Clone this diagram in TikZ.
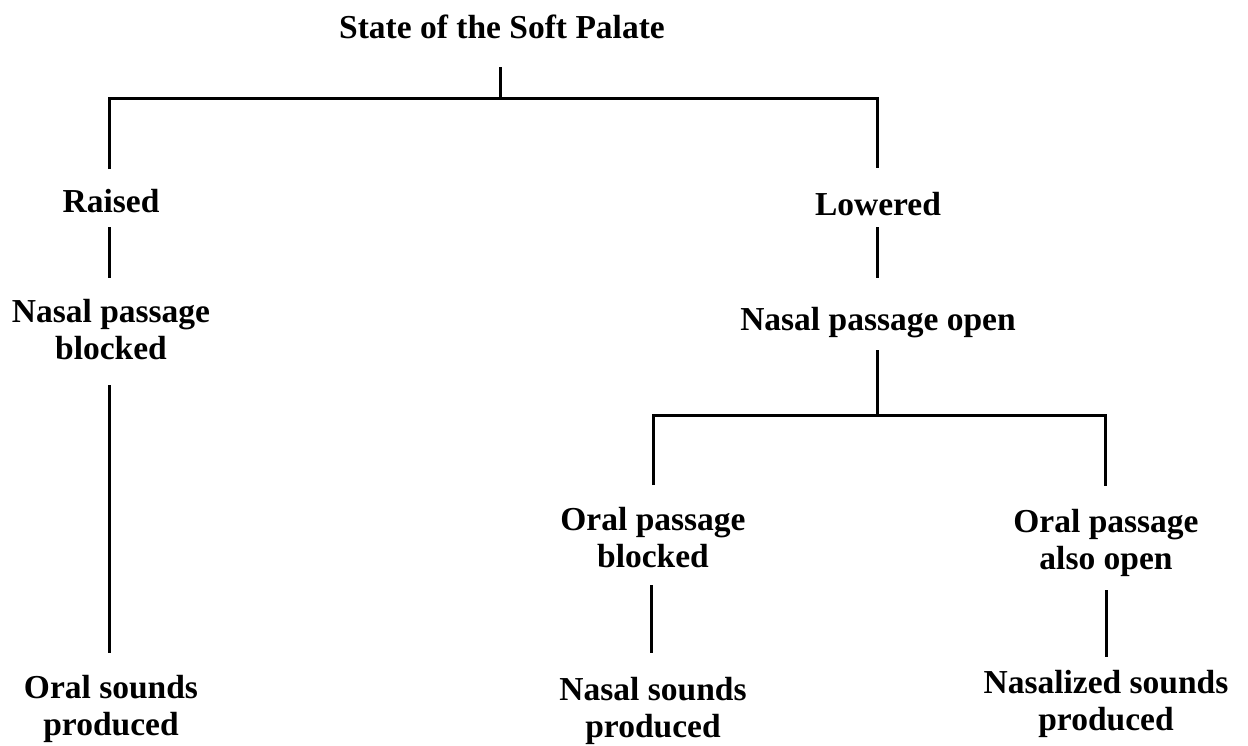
\documentclass[tikz,border=0pt]{standalone}
\usepackage{fontspec}
\setmainfont{Liberation Serif}
\begin{document}
\begin{tikzpicture}[x=1pt,y=-1pt,
  lbl/.style={font=\fontsize{33.5}{37}\selectfont\bfseries, align=center, anchor=base, inner sep=0pt},
  branch/.style={line width=3pt, line join=miter}]
\useasboundingbox (0,0) rectangle (1248,745);

% labels (positioned on the baseline of their last line)
\node[lbl] (root)      at (502,38)  {State of the Soft Palate};
\node[lbl] (raised)    at (111,212) {Raised};
\node[lbl] (nasblk)    at (111,359) {Nasal passage\\blocked};
\node[lbl] (oralsnd)   at (111,735) {Oral sounds\\produced};
\node[lbl] (lowered)   at (878,215) {Lowered};
\node[lbl] (nasopen)   at (878,330) {Nasal passage open};
\node[lbl] (oralblk)   at (653,567) {Oral passage\\blocked};
\node[lbl] (nassnd)    at (653,737) {Nasal sounds\\produced};
\node[lbl] (oralopen)  at (1106,569){Oral passage\\also open};
\node[lbl] (nasalized) at (1106,730){Nasalized sounds\\produced};

% branch points and line ends
\coordinate (rootA) at (500,67);
\coordinate (rootB) at (500,98);
\coordinate (barL)  at (109,98);
\coordinate (barR)  at (877,98);
\coordinate (dropL) at (109,169);
\coordinate (dropR) at (877,168);
\coordinate (raA)   at (109,227);
\coordinate (raB)   at (109,278);
\coordinate (nbA)   at (109,385);
\coordinate (nbB)   at (109,653);
\coordinate (loA)   at (877,227);
\coordinate (loB)   at (877,278);
\coordinate (noA)   at (877,350);
\coordinate (noB)   at (877,415);
\coordinate (subL)  at (653,415);
\coordinate (subR)  at (1105,415);
\coordinate (sdL)   at (653,485);
\coordinate (sdR)   at (1105,486);
\coordinate (obA)   at (651,585);
\coordinate (obB)   at (651,653);
\coordinate (ooA)   at (1106,590);
\coordinate (ooB)   at (1106,657);

% tree connectors
\draw[branch] (rootA) -- (rootB);
\draw[branch] (dropL) -- (barL) -- (barR) -- (dropR);
\draw[branch] (raA) -- (raB);
\draw[branch] (nbA) -- (nbB);
\draw[branch] (loA) -- (loB);
\draw[branch] (noA) -- (noB);
\draw[branch] (sdL) -- (subL) -- (subR) -- (sdR);
\draw[branch] (obA) -- (obB);
\draw[branch] (ooA) -- (ooB);
\end{tikzpicture}
\end{document}
